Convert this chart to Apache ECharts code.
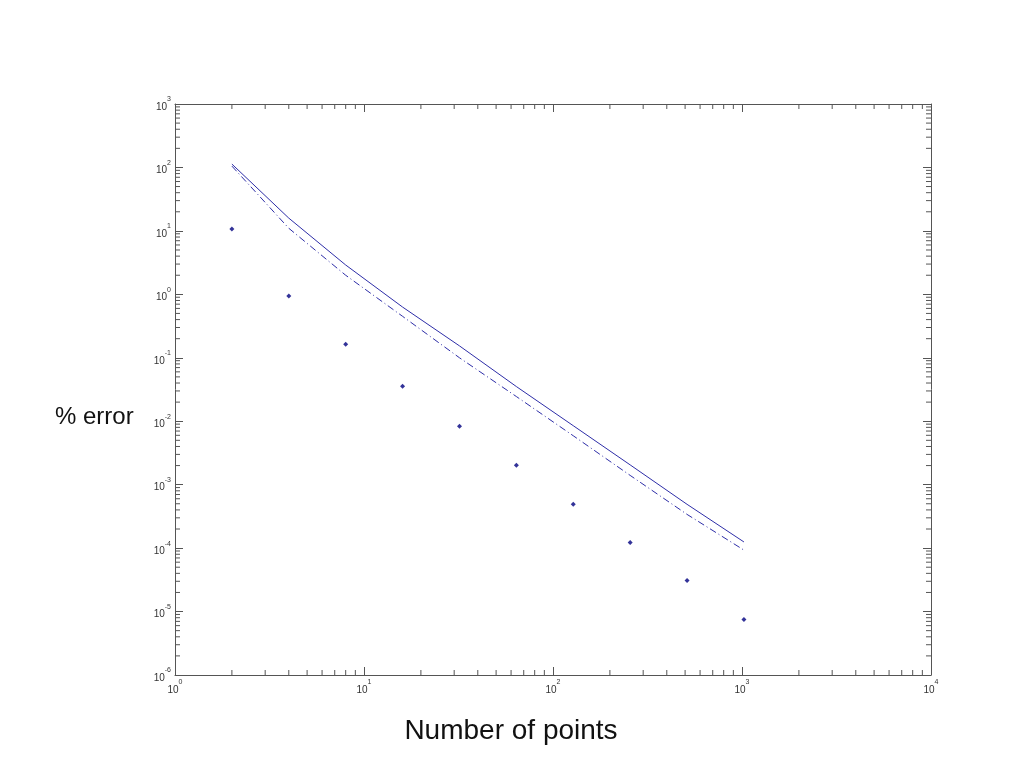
<!DOCTYPE html>
<html>
<head>
<meta charset="utf-8">
<script src="https://cdn.jsdelivr.net/npm/echarts@6/dist/echarts.min.js"></script>
<style>html,body{margin:0;padding:0;background:#fff;}#c{width:1024px;height:768px;}</style>
</head>
<body>
<div id="c"></div>
<script>
// Data
var nPoints = [2, 4, 8, 16, 32, 64, 128, 256, 512, 1024];
var solidError = [113, 15.9, 2.9, 0.63, 0.154, 0.0352, 0.0085, 0.00205, 0.00049, 0.000125];
var dashDotError = [105, 11, 2.0, 0.45, 0.10, 0.0245, 0.0059, 0.00140, 0.00034, 0.000093];
var dotError = [10.7, 0.94, 0.164, 0.0356, 0.0083, 0.00202, 0.00049, 0.000123, 0.000031, 0.0000075];
var xDecades = [0, 1, 2, 3, 4];
var yDecades = [-6, -5, -4, -3, -2, -1, 0, 1, 2, 3];

function minorVals(decades) {
  var out = [];
  for (var i = 0; i < decades.length - 1; i++) {
    for (var m = 2; m <= 9; m++) out.push(m * Math.pow(10, decades[i]));
  }
  return out;
}
var xMinor = minorVals(xDecades);
var yMinor = minorVals(yDecades);

var axisColor = '#555';
var labelRich = {
  a: {fontSize: 10, color: '#333', fontFamily: 'Liberation Sans, Arial', lineHeight: 16, verticalAlign: 'bottom'},
  e: {fontSize: 7, color: '#333', fontFamily: 'Liberation Sans, Arial', lineHeight: 16, verticalAlign: 'top'}
};
function fmt(v) {
  var e = Math.round(Math.log10(v));
  return '{a|10}{e|' + e + '}';
}
function logAxis(min, max, pos, show) {
  return {
    type: 'log', logBase: 10, min: min, max: max, position: pos, interval: 1,
    axisLine: {show: true, onZero: false, lineStyle: {color: axisColor, width: 1}},
    axisTick: {show: true, inside: true, length: 8, lineStyle: {color: axisColor}},
    axisLabel: {show: show, formatter: fmt, rich: labelRich, margin: 4},
    splitLine: {show: false},
    minorTick: {show: false}
  };
}

var chart = echarts.init(document.getElementById('c'));

function tickRenderer(isX) {
  return function (params, api) {
    var cs = params.coordSys;
    var len = 5;
    var st = {stroke: axisColor, lineWidth: 1};
    if (isX) {
      var px = api.coord([api.value(0), 1])[0];
      return {type: 'group', children: [
        {type: 'line', shape: {x1: px, y1: cs.y + cs.height, x2: px, y2: cs.y + cs.height - len}, style: st},
        {type: 'line', shape: {x1: px, y1: cs.y, x2: px, y2: cs.y + len}, style: st}
      ]};
    } else {
      var py = api.coord([10, api.value(1)])[1];
      return {type: 'group', children: [
        {type: 'line', shape: {x1: cs.x, y1: py, x2: cs.x + len, y2: py}, style: st},
        {type: 'line', shape: {x1: cs.x + cs.width, y1: py, x2: cs.x + cs.width - len, y2: py}, style: st}
      ]};
    }
  };
}

chart.setOption({
  backgroundColor: '#fff',
  animation: false,
  title: [
    {text: '% error', left: 50, top: 400,
      textStyle: {fontSize: 24, fontWeight: 'normal', color: '#111', fontFamily: 'Liberation Sans, Arial'}},
    {text: 'Number of points', left: 506, top: 712, textAlign: 'center',
      textStyle: {fontSize: 28, fontWeight: 'normal', color: '#111', fontFamily: 'Liberation Sans, Arial'}}
  ],
  grid: {left: 175, right: 93, top: 104, bottom: 93, containLabel: false},
  xAxis: [logAxis(1, 10000, 'bottom', true), logAxis(1, 10000, 'top', false)],
  yAxis: [logAxis(1e-6, 1000, 'left', true), logAxis(1e-6, 1000, 'right', false)],
  series: [
    {type: 'line', data: nPoints.map(function (x, i) { return [x, solidError[i]]; }),
      showSymbol: false, lineStyle: {color: '#2e2ea8', width: 1, type: 'solid'}, silent: true},
    {type: 'line', data: nPoints.map(function (x, i) { return [x, dashDotError[i]]; }),
      showSymbol: false, lineStyle: {color: '#2e2ea8', width: 1, type: [7, 3, 1, 3]}, silent: true},
    {type: 'scatter', data: nPoints.map(function (x, i) { return [x, dotError[i]]; }),
      symbol: 'diamond', symbolSize: 5, itemStyle: {color: '#000080'}, silent: true},
    {type: 'custom', renderItem: tickRenderer(true), data: xMinor.map(function (v) { return [v, 1]; }),
      encode: {x: 0, y: 1}, silent: true, clip: false},
    {type: 'custom', renderItem: tickRenderer(false), data: yMinor.map(function (v) { return [10, v]; }),
      encode: {x: 0, y: 1}, silent: true, clip: false}
  ]
});
</script>
</body>
</html>
